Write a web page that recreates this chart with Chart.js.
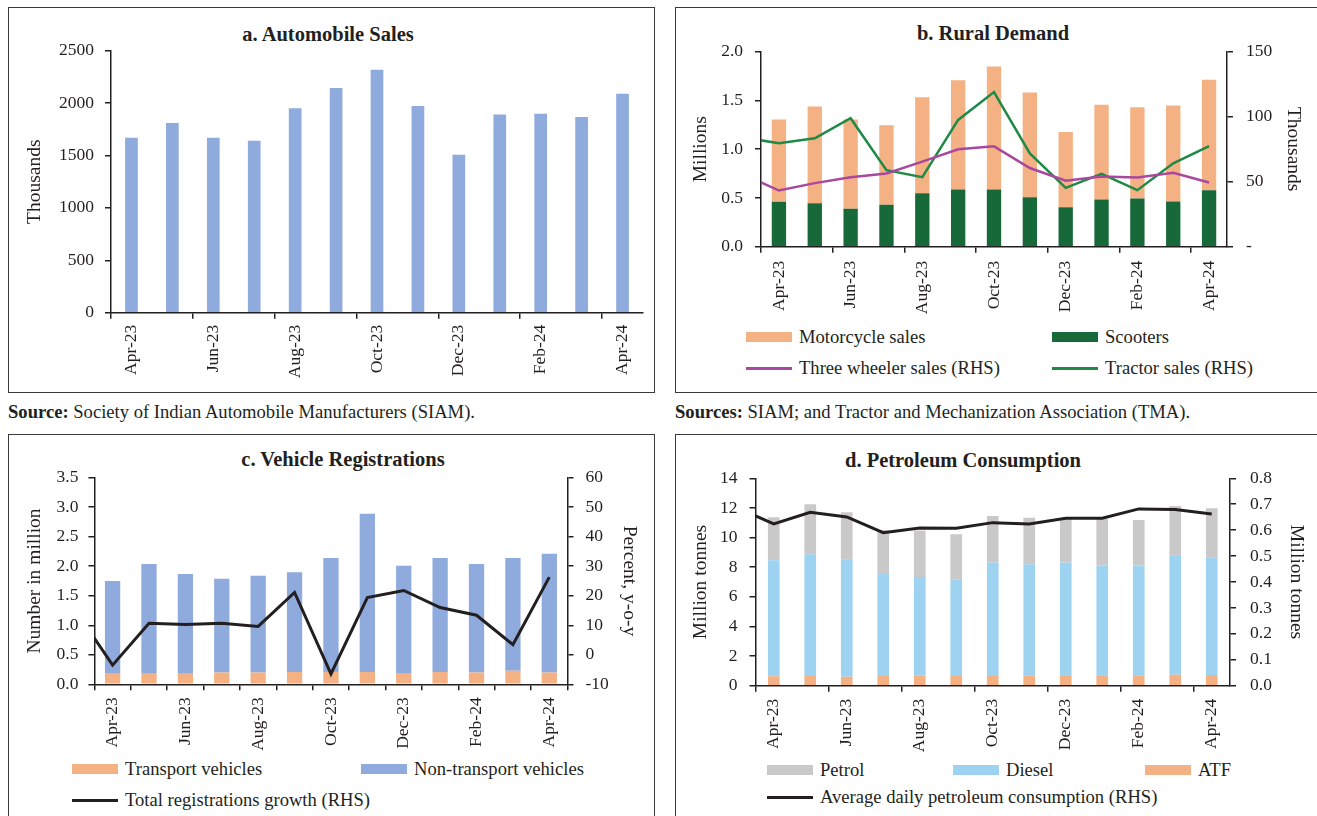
<!DOCTYPE html>
<html>
<head>
<meta charset="utf-8">
<script src="https://cdn.jsdelivr.net/npm/chart.js@4.4.1/dist/chart.umd.min.js"></script>
<style>
  body { margin: 0; background: #fff; font-family: "Liberation Serif", serif; color: #231F20; }
  #page { position: relative; width: 1317px; height: 816px; overflow: hidden; background: #fff; }
  .box { position: absolute; border: 1.5px solid #3a3a3a; box-sizing: border-box; }
  .title { position: absolute; font-weight: bold; font-size: 20.5px; white-space: nowrap; transform: translate(-50%, -50%); }
  .src { position: absolute; font-size: 18.6px; white-space: nowrap; transform: translateY(-50%); }
  .src b { font-weight: bold; }
  canvas { position: absolute; }
  .leg { position: absolute; display: flex; align-items: center; font-size: 18.6px; white-space: nowrap; transform: translateY(-50%); }
  .sw { display: inline-block; width: 46px; margin-right: 7px; }
</style>
</head>
<body>
<div id="page">
  <div class="box" style="left:8px;top:7px;width:647px;height:386px;"></div>
  <div class="box" style="left:675px;top:7px;width:660px;height:386px;"></div>
  <div class="box" style="left:8px;top:434px;width:647px;height:400px;"></div>
  <div class="box" style="left:675px;top:434px;width:660px;height:400px;"></div>

  <div class="title" style="left:328px;top:34px;">a. Automobile Sales</div>
  <div class="title" style="left:993px;top:33px;">b. Rural Demand</div>
  <div class="title" style="left:343px;top:459px;">c. Vehicle Registrations</div>
  <div class="title" style="left:963px;top:460px;">d. Petroleum Consumption</div>

  <div class="src" style="left:8px;top:412px;"><b>Source:</b> Society of Indian Automobile Manufacturers (SIAM).</div>
  <div class="src" style="left:675px;top:412px;"><b>Sources:</b> SIAM; and Tractor and Mechanization Association (TMA).</div>

  <canvas id="chartA" width="647" height="380" style="left:8px;top:7px;"></canvas>
  <canvas id="chartB" width="642" height="310" style="left:675px;top:7px;"></canvas>
  <canvas id="chartC" width="647" height="320" style="left:8px;top:434px;"></canvas>
  <canvas id="chartD" width="642" height="320" style="left:675px;top:434px;"></canvas>
</div>

<script>
// ---- Data -------------------------------------------------------------
const months = ['Apr-23', 'May-23', 'Jun-23', 'Jul-23', 'Aug-23', 'Sep-23', 'Oct-23',
                'Nov-23', 'Dec-23', 'Jan-24', 'Feb-24', 'Mar-24', 'Apr-24'];
// line series also carry the month before the first bar (it runs into the left edge)
const lineMonths = ['Mar-23'].concat(months);

// a. Automobile sales (thousands)
const autoSales = [1670, 1810, 1670, 1641, 1950, 2144, 2319, 1972, 1508, 1892, 1899, 1867, 2090];

// b. Rural demand: two-wheelers (millions), three-wheelers and tractors (thousands)
const scooterSales    = [0.460, 0.446, 0.388, 0.429, 0.549, 0.587, 0.587, 0.508, 0.405, 0.484, 0.494, 0.463, 0.580];
const motorcycleSales = [0.844, 0.991, 0.916, 0.816, 0.984, 1.121, 1.262, 1.073, 0.772, 0.971, 0.937, 0.985, 1.132];
const threeWheelerSales = [55.6, 43.2, 48.9, 53.5, 56.3, 65.4, 74.9, 77.2, 60.5, 50.7, 54.0, 53.3, 56.9, 49.4];
const tractorSales      = [84.1, 79.5, 83.4, 98.8, 58.9, 53.5, 97.5, 118.9, 71.8, 45.3, 56.1, 43.5, 64.1, 77.4];

// c. Vehicle registrations (million) and y-o-y growth (per cent)
const transportRegs    = [0.18, 0.18, 0.18, 0.20, 0.20, 0.21, 0.21, 0.21, 0.18, 0.21, 0.20, 0.23, 0.20];
const nonTransportRegs = [1.57, 1.86, 1.69, 1.59, 1.64, 1.69, 1.93, 2.68, 1.83, 1.93, 1.84, 1.91, 2.01];
const regGrowth = [14.7, -3.5, 10.7, 10.3, 10.7, 9.6, 21.1, -6.5, 19.4, 21.8, 16.0, 13.4, 3.4, 26.3];

// d. Petroleum consumption (million tonnes)
const atfUse    = [0.63, 0.65, 0.61, 0.65, 0.68, 0.65, 0.70, 0.70, 0.70, 0.70, 0.70, 0.74, 0.72];
const dieselUse = [7.83, 8.22, 7.92, 6.89, 6.66, 6.51, 7.61, 7.49, 7.61, 7.42, 7.42, 8.06, 7.95];
const petrolUse = [2.91, 3.37, 3.17, 2.97, 3.13, 3.06, 3.15, 3.15, 2.95, 3.14, 3.07, 3.33, 3.30];
const dailyAvgUse = [0.686, 0.624, 0.669, 0.651, 0.590, 0.608, 0.607, 0.629, 0.624, 0.646, 0.646, 0.682, 0.680, 0.662];

// ---- Styling ----------------------------------------------------------
const INK = '#231F20';
const BLUE = '#8FAADC', ORANGE = '#F4B183', DKGREEN = '#18693A', GREEN = '#1F8A46',
      PURPLE = '#A8489F', GREY = '#C9C9C9', SKY = '#9DD3F1';
const FONT = '"Liberation Serif", serif';
const TICK_SIZE = 17.5;
const AXIS_TITLE_SIZE = 19.5;

Chart.defaults.font.family = FONT;
Chart.defaults.color = INK;
Chart.defaults.animation = false;

// bar values laid out on the line-month axis (no bar for the lead-in month)
const onLineMonths = vals => lineMonths.map(m => {
  const k = months.indexOf(m);
  return k < 0 ? null : vals[k];
});

function monthAxis(everyOther, height, pad, firstShown) {
  return {
    type: 'category', offset: true, stacked: true, min: firstShown,
    grid: {
      display: true, drawOnChartArea: false, drawTicks: true, tickLength: 6, lineWidth: 1.5, offset: true,
      color: c => (!everyOther || c.index % 2 === 0) ? INK : 'rgba(0,0,0,0)'
    },
    border: { display: true, color: INK, width: 1.5 },
    ticks: {
      autoSkip: false, minRotation: 90, maxRotation: 90, padding: pad,
      font: { size: TICK_SIZE }, color: INK,
      callback: function (v, i) { return i % 2 === 0 ? this.getLabelForValue(v) : ''; }
    },
    afterFit: s => { s.height = height; }
  };
}

function valueAxis(o) {
  return {
    type: 'linear', position: o.position, min: o.min, max: o.max, stacked: !!o.stacked,
    grid: { display: true, drawOnChartArea: false, drawTicks: true, tickLength: 6, lineWidth: 1.5, color: INK },
    border: { display: true, color: INK, width: 1.5 },
    ticks: { stepSize: o.step, padding: o.tickPad, font: { size: TICK_SIZE }, color: INK, callback: o.fmt },
    title: { display: true, text: o.title, font: { size: AXIS_TITLE_SIZE }, color: INK,
             padding: { top: o.titlePad, bottom: 0 } },
    afterFit: s => { s.width = o.width; }
  };
}

function barSet(label, data, color, pct) {
  return { type: 'bar', label, data, backgroundColor: color, borderWidth: 0,
           categoryPercentage: 1, barPercentage: pct, yAxisID: 'y', order: 2 };
}

function lineSet(label, data, color, width) {
  return { type: 'line', label, data, borderColor: color, backgroundColor: color,
           borderWidth: width, pointRadius: 0, tension: 0, yAxisID: 'y1', order: 1, clip: 0 };
}

function baseOptions(padding, scales) {
  return {
    responsive: false, animation: false,
    layout: { padding },
    plugins: { legend: { display: false }, title: { display: false }, tooltip: { enabled: false } },
    scales
  };
}

// HTML legend built from the chart's own datasets
function drawLegend(chart, items) {
  const page = document.getElementById('page');
  items.forEach(it => {
    const ds = chart.data.datasets[it.ds];
    const row = document.createElement('div');
    row.className = 'leg';
    row.style.left = it.left + 'px';
    row.style.top = it.top + 'px';
    const sw = document.createElement('span');
    sw.className = 'sw';
    if (ds.type === 'line') { sw.style.height = '3px'; sw.style.background = ds.borderColor; }
    else { sw.style.height = '10px'; sw.style.background = ds.backgroundColor; }
    row.appendChild(sw);
    row.appendChild(document.createTextNode(ds.label));
    page.appendChild(row);
  });
}

// ---- a. Automobile Sales ----------------------------------------------
new Chart(document.getElementById('chartA'), {
  type: 'bar',
  data: { labels: months, datasets: [barSet('Automobile sales', autoSales, BLUE, 0.31)] },
  options: baseOptions({ top: 43.7, right: 12, left: 0, bottom: 0 }, {
    x: monthAxis(true, 74.3, 6),
    y: valueAxis({ position: 'left', min: 0, max: 2500, step: 500, tickPad: 11, title: 'Thousands',
                   titlePad: 15, width: 103, fmt: v => v })
  })
});

// ---- b. Rural Demand ---------------------------------------------------
const chartB = new Chart(document.getElementById('chartB'), {
  type: 'bar',
  data: {
    labels: lineMonths,
    datasets: [
      barSet('Scooters', onLineMonths(scooterSales), DKGREEN, 0.40),
      barSet('Motorcycle sales', onLineMonths(motorcycleSales), ORANGE, 0.40),
      lineSet('Three wheeler sales (RHS)', threeWheelerSales, PURPLE, 2.5),
      lineSet('Tractor sales (RHS)', tractorSales, GREEN, 2.5)
    ]
  },
  options: baseOptions({ top: 44.7, right: 0, left: 0, bottom: 0 }, {
    x: monthAxis(true, 70.3, 8, months[0]),
    y: valueAxis({ position: 'left', min: 0, max: 2, step: 0.5, tickPad: 12, title: 'Millions',
                   titlePad: 14, width: 86, stacked: true, fmt: v => v.toFixed(1) }),
    y1: valueAxis({ position: 'right', min: 0, max: 150, step: 50, tickPad: 13, title: 'Thousands',
                    titlePad: 12, width: 90, fmt: v => (v === 0 ? '-' : v) })
  })
});
drawLegend(chartB, [
  { ds: 1, left: 746, top: 337 }, { ds: 0, left: 1052, top: 337 },
  { ds: 2, left: 746, top: 368 }, { ds: 3, left: 1052, top: 368 }
]);

// ---- c. Vehicle Registrations -----------------------------------------
const chartC = new Chart(document.getElementById('chartC'), {
  type: 'bar',
  data: {
    labels: lineMonths,
    datasets: [
      barSet('Transport vehicles', onLineMonths(transportRegs), ORANGE, 0.42),
      barSet('Non-transport vehicles', onLineMonths(nonTransportRegs), BLUE, 0.42),
      lineSet('Total registrations growth (RHS)', regGrowth, INK, 3)
    ]
  },
  options: baseOptions({ top: 43.7, right: 0, left: 0, bottom: 0 }, {
    x: monthAxis(false, 69.7, 7, months[0]),
    y: valueAxis({ position: 'left', min: 0, max: 3.5, step: 0.5, tickPad: 10, title: 'Number in million',
                   titlePad: 15, width: 86.4, stacked: true, fmt: v => v.toFixed(1) }),
    y1: valueAxis({ position: 'right', min: -10, max: 60, step: 10, tickPad: 12, title: 'Percent, y-o-y',
                    titlePad: 14, width: 87.5, fmt: v => v })
  })
});
drawLegend(chartC, [
  { ds: 0, left: 72, top: 769 }, { ds: 1, left: 361, top: 769 },
  { ds: 2, left: 72, top: 800 }
]);

// ---- d. Petroleum Consumption -----------------------------------------
const chartD = new Chart(document.getElementById('chartD'), {
  type: 'bar',
  data: {
    labels: lineMonths,
    datasets: [
      barSet('ATF', onLineMonths(atfUse), ORANGE, 0.32),
      barSet('Diesel', onLineMonths(dieselUse), SKY, 0.32),
      barSet('Petrol', onLineMonths(petrolUse), GREY, 0.32),
      lineSet('Average daily petroleum consumption (RHS)', dailyAvgUse, INK, 3)
    ]
  },
  options: baseOptions({ top: 44.3, right: 0, left: 0, bottom: 0 }, {
    x: monthAxis(true, 68.3, 7, months[0]),
    y: valueAxis({ position: 'left', min: 0, max: 14, step: 2, tickPad: 12, title: 'Million tonnes',
                   titlePad: 14, width: 80.5, stacked: true, fmt: v => v }),
    y1: valueAxis({ position: 'right', min: 0, max: 0.8, step: 0.1, tickPad: 14, title: 'Million tonnes',
                    titlePad: 9, width: 87, fmt: v => v.toFixed(1) })
  })
});
drawLegend(chartD, [
  { ds: 2, left: 767, top: 770 }, { ds: 1, left: 953, top: 770 }, { ds: 0, left: 1145, top: 770 },
  { ds: 3, left: 767, top: 797 }
]);
</script>
</body>
</html>
